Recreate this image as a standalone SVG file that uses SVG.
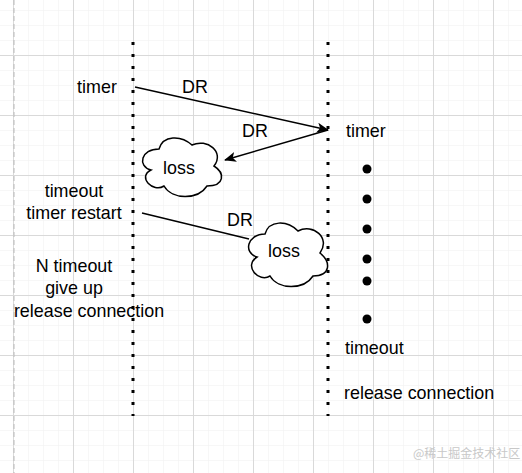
<svg xmlns="http://www.w3.org/2000/svg" width="522" height="473" viewBox="0 0 522 473">
<defs>
<pattern id="minor" width="15" height="15" patternUnits="userSpaceOnUse" x="13" y="10">
<path d="M0 0H15M0 0V15" fill="none" stroke="#f0f0f0" stroke-width="1"/>
</pattern>
<pattern id="major" width="60" height="60" patternUnits="userSpaceOnUse" x="13" y="55">
<path d="M0 0.5H60M0.5 0V60" fill="none" stroke="#d9d9d9" stroke-width="1"/>
</pattern>
<marker id="arr" markerWidth="12" markerHeight="10" refX="11" refY="5" orient="auto" markerUnits="userSpaceOnUse">
<path d="M0 0L12 5L0 10L3 5Z" fill="#000"/>
</marker>
</defs>
<style>
text{font-family:"Liberation Sans",Arial,sans-serif;font-size:17.9px;fill:#000}
.c{text-anchor:middle}
.life{stroke:#000;stroke-width:3;stroke-dasharray:3 9;fill:none}
.ln{stroke:#000;stroke-width:1.5;fill:none}
.cloud{fill:#fff;stroke:#000;stroke-width:1.5}
.dot{fill:#000}
</style>
<rect width="522" height="473" fill="#fff"/>
<rect width="522" height="473" fill="url(#minor)"/>
<rect width="522" height="473" fill="url(#major)"/>
<line x1="14" y1="0" x2="14" y2="473" stroke="#bbb" stroke-width="1" stroke-dasharray="5 3"/>
<g id="lifeline-left"><line class="life" x1="133" y1="42" x2="133" y2="416"/></g>
<g id="lifeline-right"><line class="life" x1="328" y1="42" x2="328" y2="416"/></g>
<g id="connectors">
<line class="ln" x1="135" y1="87" x2="328" y2="130" marker-end="url(#arr)"/>
<line class="ln" x1="328" y1="130" x2="225" y2="160" marker-end="url(#arr)"/>
<line class="ln" x1="142" y1="213" x2="249" y2="239"/>
<text class="c" x="195" y="93">DR</text>
<text class="c" x="255" y="137">DR</text>
<text class="c" x="240" y="226">DR</text>
</g>
<g id="cloud1">
<path class="cloud" d="M159 149C141 149 137 166 151 170C137 177 153 193 164 186C172 200 198 200 207 186C225 186 225 173 214 166C225 152 207 138 192 145C181 135 163 135 159 149Z"/>
<text class="c" x="179" y="174">loss</text>
</g>
<g id="cloud2">
<path class="cloud" d="M265 234C247 234 243 253 257 257C243 266 259 283 270 276C278 290 304 290 313 276C331 276 331 262 320 253C331 238 313 223 298 231C287 220 269 220 265 234Z"/>
<text class="c" x="284" y="257">loss</text>
</g>
<g id="left-labels">
<text class="c" x="97" y="93">timer</text>
<text class="c" x="74" y="197">timeout</text>
<text class="c" x="74" y="219">timer restart</text>
<text class="c" x="74" y="272">N timeout</text>
<text class="c" x="74" y="294">give up</text>
<text class="c" x="89" y="317">release connection</text>
</g>
<g id="right-labels">
<text x="346" y="137">timer</text>
<circle class="dot" cx="367" cy="169" r="4.5"/>
<circle class="dot" cx="367" cy="199" r="4.5"/>
<circle class="dot" cx="367" cy="229" r="4.5"/>
<circle class="dot" cx="367" cy="259" r="4.5"/>
<circle class="dot" cx="367" cy="281" r="4.5"/>
<circle class="dot" cx="367" cy="319" r="4.5"/>
<text x="345" y="354">timeout</text>
<text x="344" y="399">release connection</text>
</g>
<text x="413" y="458" style="font-family:'Noto Sans CJK SC',sans-serif;font-size:12px;fill:#c8c8c8">@稀土掘金技术社区</text>
</svg>
